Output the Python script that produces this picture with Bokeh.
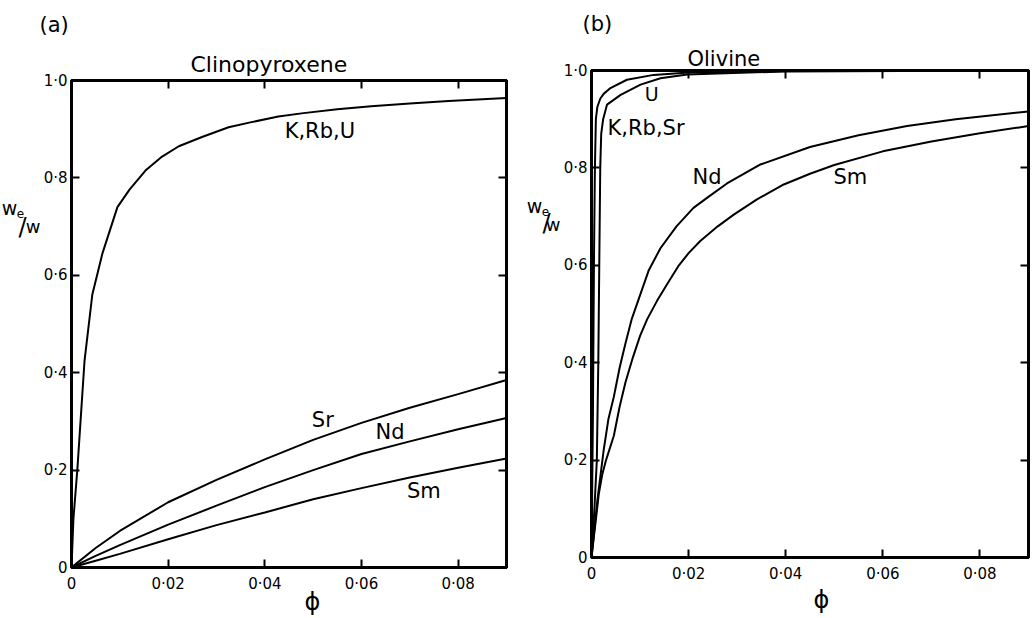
from bokeh.plotting import figure
from bokeh.models import LinearAxis, FixedTicker, Label, Range1d, Title
from bokeh.layouts import row, column
from bokeh.embed import file_html
from bokeh.resources import INLINE

# ---------------- data ----------------
x_tick_vals = [0, 0.02, 0.04, 0.06, 0.08]
x_tick_text = ["0", "0·02", "0·04", "0·06", "0·08"]
y_tick_vals = [0, 0.2, 0.4, 0.6, 0.8, 1.0]
y_tick_text = ["0", "0·2", "0·4", "0·6", "0·8", "1·0"]

# (a) Clinopyroxene
cpx_phi_kru = [0, 0.0004, 0.0012, 0.0027, 0.0043, 0.0064, 0.0095, 0.012, 0.0153, 0.0185,
               0.0222, 0.027, 0.0325, 0.037, 0.0428, 0.048, 0.055, 0.062, 0.07, 0.078, 0.09]
cpx_kru = [0, 0.10, 0.20, 0.425, 0.56, 0.645, 0.74, 0.776, 0.815, 0.842,
           0.865, 0.884, 0.904, 0.914, 0.926, 0.933, 0.941, 0.947, 0.953, 0.958, 0.964]
cpx_phi = [0, 0.005, 0.01, 0.02, 0.03, 0.04, 0.05, 0.06, 0.07, 0.08, 0.09]
cpx_sr = [0, 0.040, 0.075, 0.134, 0.180, 0.222, 0.262, 0.297, 0.328, 0.356, 0.385]
cpx_nd = [0, 0.024, 0.046, 0.088, 0.127, 0.165, 0.200, 0.233, 0.259, 0.284, 0.307]
cpx_sm = [0, 0.014, 0.028, 0.058, 0.087, 0.113, 0.140, 0.163, 0.185, 0.205, 0.224]

# (b) Olivine
ol_phi_krs = [0, 0.0003, 0.0005, 0.0007, 0.0009, 0.0012, 0.0018, 0.0025, 0.0039,
              0.0073, 0.0128, 0.02, 0.04, 0.09]
ol_krs = [0, 0.30, 0.60, 0.80, 0.90, 0.925, 0.942, 0.952, 0.964,
          0.981, 0.991, 0.996, 0.999, 1.0]
ol_phi_u = [0, 0.0006, 0.0011, 0.0014, 0.0016, 0.0018, 0.0020, 0.0024, 0.0032,
            0.006, 0.0101, 0.0142, 0.0197, 0.04, 0.09]
ol_u = [0, 0.10, 0.20, 0.40, 0.60, 0.80, 0.87, 0.90, 0.93,
        0.95, 0.971, 0.984, 0.992, 0.998, 1.0]
ol_phi_nd = [0, 0.0012, 0.0025, 0.0035, 0.0046, 0.0058, 0.0070, 0.0083, 0.0097, 0.0118,
             0.0142, 0.0175, 0.021, 0.024, 0.0279, 0.0348, 0.045, 0.055, 0.065, 0.075, 0.09]
ol_nd = [0, 0.117, 0.22, 0.285, 0.33, 0.39, 0.44, 0.49, 0.53, 0.59,
         0.635, 0.68, 0.718, 0.74, 0.768, 0.807, 0.843, 0.867, 0.886, 0.900, 0.916]
ol_phi_sm = [0, 0.0015, 0.0022, 0.003, 0.0046, 0.0058, 0.007, 0.0085, 0.010, 0.0115, 0.0135,
             0.0155, 0.018, 0.020, 0.0224, 0.026, 0.0293, 0.034, 0.0396, 0.045, 0.05, 0.06,
             0.07, 0.08, 0.09]
ol_sm = [0, 0.13, 0.17, 0.20, 0.25, 0.31, 0.36, 0.41, 0.455, 0.49, 0.527,
         0.56, 0.60, 0.625, 0.65, 0.68, 0.704, 0.735, 0.766, 0.788, 0.806, 0.834,
         0.854, 0.871, 0.886]

FONT = "DejaVu Sans"
H = 617


def make_panel(width, height, bl, br, bt, bb):
    p = figure(width=width, height=height, x_range=Range1d(0, 0.09), y_range=Range1d(0, 1),
               output_backend="svg", toolbar_location=None, title=None,
               min_border_left=bl, min_border_right=br, min_border_top=bt, min_border_bottom=bb)
    p.grid.visible = False
    p.outline_line_color = "black"
    p.outline_line_width = 3
    p.background_fill_color = "white"
    p.border_fill_color = "white"

    xa = p.xaxis[0]
    xa.ticker = FixedTicker(ticks=x_tick_vals)
    xa.major_label_overrides = {v: t for v, t in zip(x_tick_vals, x_tick_text)}
    ya = p.yaxis[0]
    ya.ticker = FixedTicker(ticks=y_tick_vals)
    ya.major_label_overrides = {v: t for v, t in zip(y_tick_vals, y_tick_text)}
    for ax in (xa, ya):
        ax.major_tick_in = 8
        ax.major_tick_out = 0
        ax.minor_tick_in = 0
        ax.minor_tick_out = 0
        ax.major_tick_line_width = 2
        ax.axis_line_width = 3
        ax.major_label_text_font = FONT
        ax.major_label_text_font_size = "15px"
        ax.major_label_text_color = "black"
    xa.major_label_standoff = 7
    ya.major_label_standoff = 4

    top = LinearAxis(ticker=FixedTicker(ticks=x_tick_vals[1:]), major_tick_in=8, major_tick_out=0,
                     minor_tick_in=0, minor_tick_out=0, major_tick_line_width=2,
                     axis_line_width=3, major_label_text_font_size="0px", major_label_standoff=0)
    right = LinearAxis(ticker=FixedTicker(ticks=y_tick_vals[1:-1]), major_tick_in=8, major_tick_out=0,
                       minor_tick_in=0, minor_tick_out=0, major_tick_line_width=2,
                       axis_line_width=3, major_label_text_font_size="0px", major_label_standoff=0)
    p.add_layout(top, "above")
    p.add_layout(right, "right")
    return p


def lab(p, x, y, text, size="21px", align="center", baseline="middle"):
    p.add_layout(Label(x=x, y=y, text=text, text_font=FONT, text_font_size=size,
                       text_align=align, text_baseline=baseline, text_color="black"))


def title(p, side, text, offset, standoff, size="21px", valign="bottom"):
    p.add_layout(Title(text=text, align="left", offset=offset, standoff=standoff,
                       vertical_align=valign, text_font=FONT, text_font_size=size,
                       text_font_style="normal", text_color="black"), side)


def ylabel_fig(width, pts):
    f = figure(width=width, height=H, x_range=Range1d(0, width), y_range=Range1d(0, H),
               output_backend="svg", toolbar_location=None, title=None,
               x_axis_location=None, y_axis_location=None,
               min_border_left=0, min_border_right=0, min_border_top=0, min_border_bottom=0)
    f.grid.visible = False
    f.outline_line_color = None
    (wx, wy), (ex, ey), (sx, sy), (w2x, w2y) = pts
    lab(f, wx, H - wy, "w", size="19px")
    lab(f, ex, H - ey, "e", size="12px")
    lab(f, sx, H - sy, "/", size="24px")
    lab(f, w2x, H - w2y, "w", size="18px")
    return f


lw = 2

# ---------------- panel (a) ----------------
p1 = make_panel(486, H, 29, 20, 80, 50)
p1.line(cpx_phi_kru, cpx_kru, line_color="black", line_width=lw)
p1.line(cpx_phi, cpx_sr, line_color="black", line_width=lw)
p1.line(cpx_phi, cpx_nd, line_color="black", line_width=lw)
p1.line(cpx_phi, cpx_sm, line_color="black", line_width=lw)

lab(p1, 0.0441, 0.897, "K,Rb,U", align="left")
lab(p1, 0.052, 0.302, "Sr")
lab(p1, 0.0659, 0.278, "Nd")
lab(p1, 0.0729, 0.158, "Sm")
title(p1, "above", "Clinopyroxene", 119, 8, size="22px")
title(p1, "above", "(a)", -32, 18)
title(p1, "below", "ϕ", 233, -16, size="24px", valign="top")

yl1 = ylabel_fig(40, [(9, 207), (20, 213), (22, 226), (32.5, 226)])

# ---------------- panel (b) ----------------
p2 = make_panel(471, H, 31, 3, 69, 60)
p2.line(ol_phi_krs, ol_krs, line_color="black", line_width=lw)
p2.line(ol_phi_u, ol_u, line_color="black", line_width=lw)
p2.line(ol_phi_nd, ol_nd, line_color="black", line_width=lw)
p2.line(ol_phi_sm, ol_sm, line_color="black", line_width=lw)

lab(p2, 0.0033, 0.882, "K,Rb,Sr", align="left")
lab(p2, 0.0124, 0.952, "U", size="19px")
lab(p2, 0.0238, 0.782, "Nd")
lab(p2, 0.0533, 0.781, "Sm")
title(p2, "above", "Olivine", 96, 0)
title(p2, "above", "(b)", -9, 18)
title(p2, "below", "ϕ", 222, 0, size="24px", valign="top")

yl2 = ylabel_fig(34, [(8, 205), (19, 211), (20, 222), (26.5, 224)])

layout = row(column(yl1), column(p1), column(yl2), column(p2))
open("out.html", "w").write(file_html(layout, INLINE))
